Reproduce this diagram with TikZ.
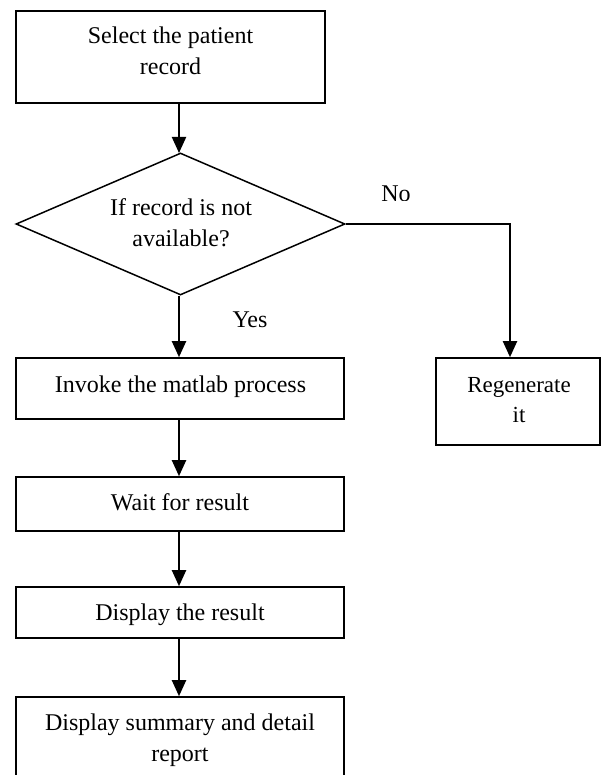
\documentclass[tikz,border=0pt]{standalone}
\usepackage{fontspec}
\setmainfont{Liberation Serif}
\usetikzlibrary{arrows.meta,shapes.geometric}
\tikzset{
  box/.style={draw=black, line width=1.6pt, rectangle, inner sep=0pt},
  dia/.style={draw=black, line width=1.5pt, diamond, inner sep=0pt},
  txt/.style={font=\fontsize{24}{31}\selectfont, align=center, inner sep=0pt},
  smalltxt/.style={font=\fontsize{23}{30}\selectfont, align=center, inner sep=0pt},
  lbl/.style={font=\fontsize{24}{31}\selectfont, inner sep=0pt, anchor=base},
  arr/.style={line width=2pt, -{Triangle[length=16pt,width=14pt]}},
  ln/.style={line width=2pt}
}
\begin{document}
\begin{tikzpicture}[x=1pt,y=-1pt]
\clip (0,0) rectangle (603,775);
\fill[white] (0,0) rectangle (603,775);
% boxes
\node[box, minimum width=309pt, minimum height=92pt] (b1) at (170.5,57) {};
\node[txt] (t1) at (170.5,50.3) {Select the patient\\record};
\node[dia, minimum width=329pt, minimum height=142pt] (d) at (180.5,224) {};
\node[txt] (td) at (181,222.3) {If record is not\\available?};
\node[box, minimum width=328pt, minimum height=61pt] (b2) at (180,388.5) {};
\node[lbl] (t2) at (180.5,392) {Invoke the matlab process};
\node[box, minimum width=164pt, minimum height=87pt] (r) at (518,401.5) {};
\node[smalltxt] (tr) at (519,400.2) {Regenerate\\it};
\node[box, minimum width=328pt, minimum height=54pt] (b3) at (180,504) {};
\node[lbl] (t3) at (180,510.5) {Wait for result};
\node[box, minimum width=328pt, minimum height=51pt] (b4) at (180,612.5) {};
\node[lbl] (t4) at (180,620) {Display the result};
\node[box, minimum width=328pt, minimum height=120pt] (b5) at (180,757) {};
\node[txt] (t5) at (180,740) {Display summary and detail\\report};
% labels
\node[lbl] (yes) at (250,327) {Yes};
\begin{scope}
\clip (350,150) rectangle (450,200.5);
\node[lbl] (no) at (396,202) {No};
\end{scope}
% connectors
\coordinate (c1) at (510,224);
\coordinate (p1) at (179,103);
\coordinate (p2) at (179,153);
\draw[arr] (p1) -- (p2);
\draw[arr] (d.south -| p1) -- (b2.north -| p1);
\draw[arr] (b2.south -| p1) -- (b3.north -| p1);
\draw[arr] (b3.south -| p1) -- (b4.north -| p1);
\draw[arr] (b4.south -| p1) -- (b5.north -| p1);
\draw[arr] (d.east) -- (c1) -- (r.north -| c1);
\end{tikzpicture}
\end{document}
